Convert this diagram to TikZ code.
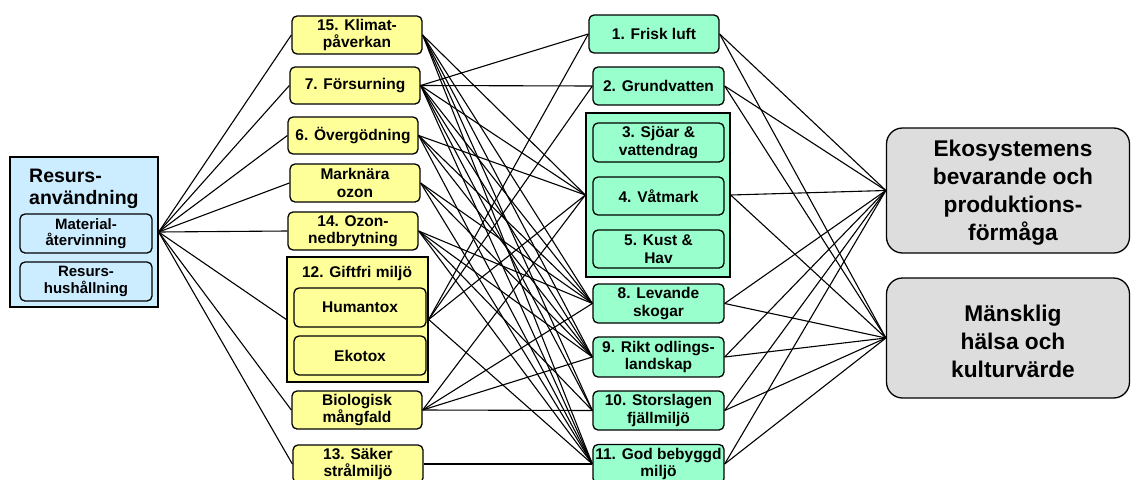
\documentclass[tikz,border=0pt]{standalone}
\usepackage{fontspec}
\setmainfont{Liberation Sans}
\definecolor{yel}{HTML}{FFFF99}
\definecolor{grn}{HTML}{99FFCC}
\definecolor{blu}{HTML}{CCECFF}
\definecolor{gry}{HTML}{DDDDDD}
\begin{document}
\begin{tikzpicture}[x=1pt,y=-1pt,
  box/.style={draw=black, line width=1.3pt, rounded corners=5pt, inner sep=0pt, align=center,
    font=\fontsize{15.5}{17.5}\selectfont\bfseries},
  ybox/.style={box, fill=yel, minimum width=130pt, minimum height=38pt},
  gbox/.style={box, fill=grn, minimum width=131pt, minimum height=39pt},
  bbox/.style={box, fill=blu, minimum width=132pt, minimum height=39pt, font=\fontsize{15}{16.5}\selectfont\bfseries},
  grpbox/.style={draw=black, line width=1.3pt, inner sep=0pt},
  bigbox/.style={draw=black, line width=1.3pt, fill=gry, rounded corners=16pt, inner sep=0pt,
    minimum width=243pt},
  bigtext/.style={inner sep=0pt, align=center, font=\fontsize{22.7}{28}\selectfont\bfseries},
  conn/.style={line width=1.1pt, draw=black}]
\useasboundingbox (0,0) rectangle (1131,479);
% left
\node[grpbox, fill=blu, minimum width=148pt, minimum height=150pt] (res) at (84,232) {};
\node[anchor=north west, inner sep=0pt, align=left, font=\fontsize{19.5}{22}\selectfont\bfseries] (restitle) at (29,169) {Resurs-\\användning};
\node[bbox] (mat) at (86,233.5) {Material-\\återvinning};
\node[bbox] (hus) at (86,281.5) {Resurs-\\hushållning};
% yellow
\node[ybox] (y15) at (357,35) {15. Klimat-\\påverkan};
\node[ybox, minimum height=37pt] (y7) at (355,85.5) {7. Försurning};
\node[ybox, minimum height=37pt] (y6) at (353,135.5) {6. Övergödning};
\node[ybox] (ym) at (355,183) {Marknära\\ozon};
\node[ybox] (y14) at (353,231) {14. Ozon-\\nedbrytning};
\node[grpbox, fill=yel, minimum width=141pt, minimum height=125pt] (y12) at (357.5,319.5) {};
\node[inner sep=0pt, font=\fontsize{15.5}{17.5}\selectfont\bfseries] (y12t) at (357,273) {12. Giftfri miljö};
\node[ybox, minimum width=132pt, minimum height=39pt] (hum) at (360,307.5) {Humantox};
\node[ybox, minimum width=132pt, minimum height=39pt] (eko) at (360,355.5) {Ekotox};
\node[ybox] (yb) at (357,410) {Biologisk\\mångfald};
\node[ybox] (y13) at (358,464) {13. Säker\\strålmiljö};
% green
\node[gbox, minimum width=130pt, minimum height=38pt] (g1) at (654,34) {1. Frisk luft};
\node[gbox, minimum height=38pt] (g2) at (658.5,86) {2. Grundvatten};
\node[grpbox, fill=grn, minimum width=144pt, minimum height=164pt] (grp) at (658,195) {};
\node[gbox] (g3) at (658.5,142.5) {3. Sjöar \&\\vattendrag};
\node[gbox, minimum height=38pt] (g4) at (658.5,196) {4. Våtmark};
\node[gbox, minimum height=38pt] (g5) at (658.5,249) {5. Kust \&\\Hav};
\node[gbox] (g8) at (658.5,303.5) {8. Levande\\skogar};
\node[gbox, minimum height=40pt] (g9) at (658.5,357) {9. Rikt odlings-\\landskap};
\node[gbox] (g10) at (658.5,410.5) {10. Storslagen\\fjällmiljö};
\node[gbox] (g11) at (658.5,464) {11. God bebyggd\\miljö};
% gray
\node[bigbox, minimum height=125pt] (eks) at (1008,190.5) {};
\node[bigtext] (ekstext) at (1013,193) {Ekosystemens\\bevarande och\\produktions-\\förmåga};
\node[bigbox, minimum height=120pt] (man) at (1008,338) {};
\node[bigtext] (mantext) at (1013,341.5) {Mänsklig\\hälsa och\\kulturvärde};
% left fan
\foreach \t in {y15,y7,y6,ym,y14,y12,yb,y13}
  \draw[conn] (res.east) -- (\t.west);
% yellow to green
\foreach \s/\t in {y15/grp,y15/g8,y15/g9,y15/g10,y15/g11,
                   y7/g1,y7/g2,y7/grp,y7/g8,y7/g9,y7/g10,y7/g11,
                   y6/grp,y6/g8,y6/g9,y6/g11,
                   ym/g8,ym/g9,ym/g11,
                   y14/g8,y14/g9,y14/g10,y14/g11,
                   y12/g1,y12/g2,y12/grp,y12/g11,
                   yb/grp,yb/g8,yb/g9,yb/g10,
                   y13/g11}
  \draw[conn] (\s.east) -- (\t.west);
% green to gray
\foreach \s in {g1,g2,grp,g8,g9,g10,g11}{
  \draw[conn] (\s.east) -- (eks.west);
  \draw[conn] (\s.east) -- (man.west);
}
\end{tikzpicture}
\end{document}
